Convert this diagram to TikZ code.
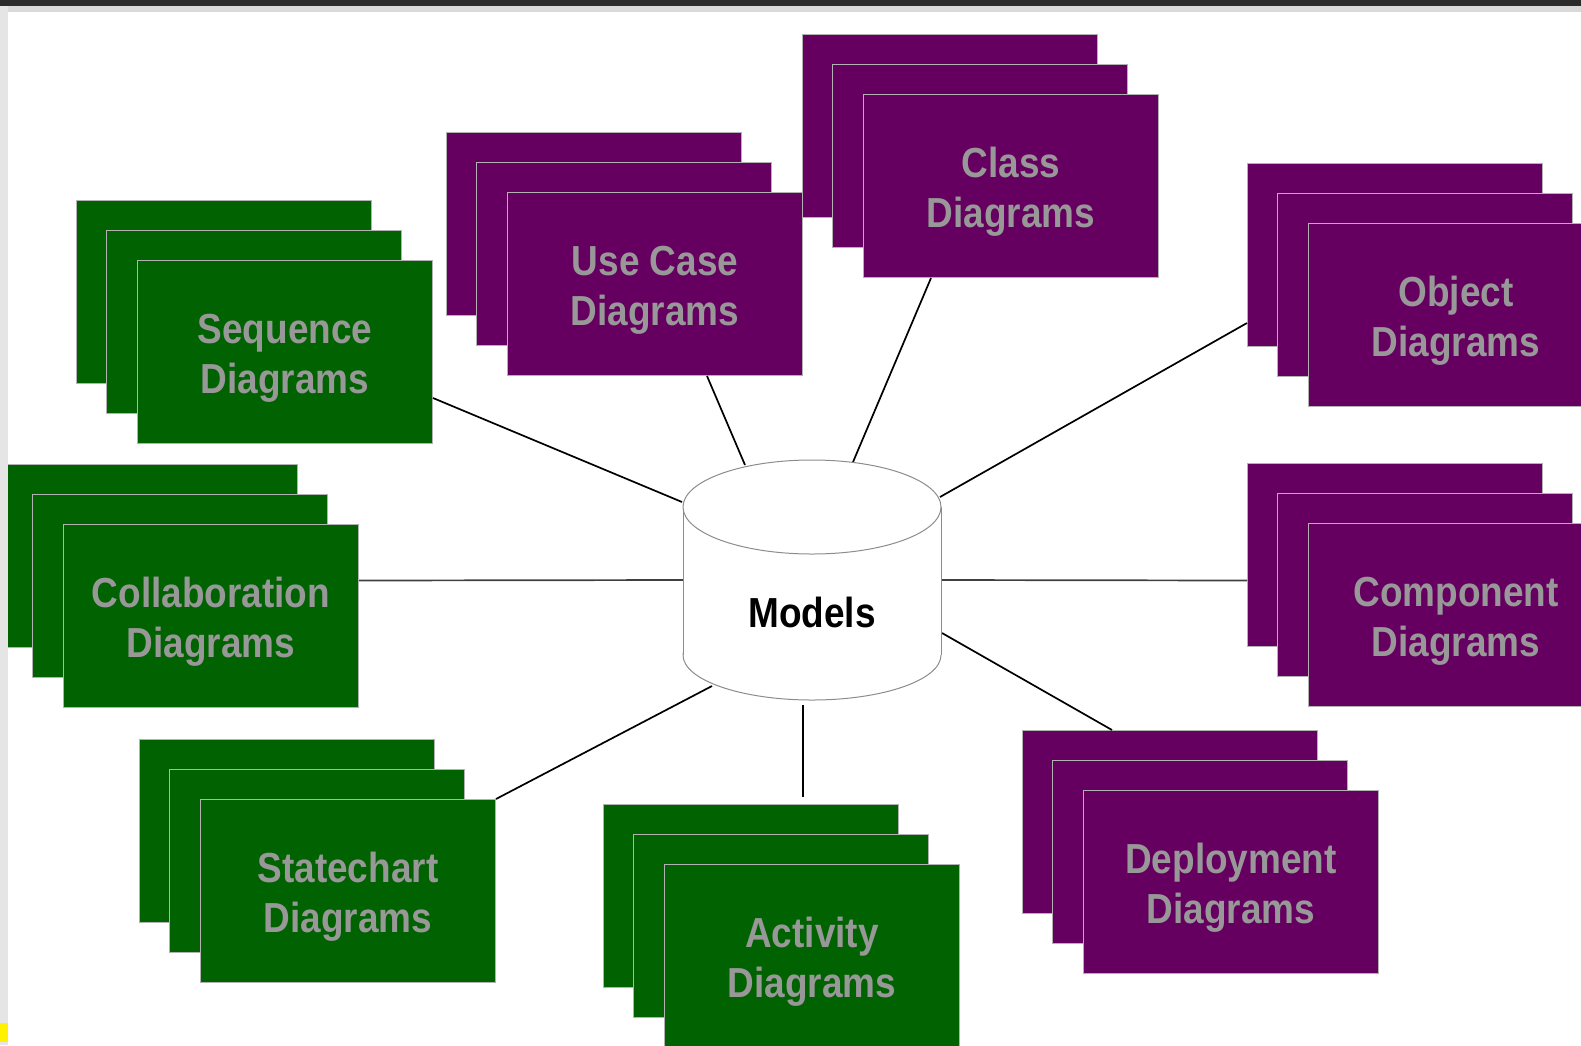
\documentclass[tikz,border=0pt]{standalone}
\usepackage{fontspec}
\newfontfamily\boxfont{Liberation Sans}[FakeStretch=0.88]
\definecolor{umlpurple}{RGB}{102,0,96}
\definecolor{umlgreen}{RGB}{0,98,0}
\definecolor{labelgrey}{RGB}{152,152,152}
\tikzset{
  sheet/.style={draw=black!30, line width=1pt, minimum width=295pt, minimum height=183pt,
    inner sep=0pt, anchor=north west},
  label text/.style={text=labelgrey, align=center,
    font=\boxfont\bfseries\fontsize{42}{50}\selectfont},
  link/.style={line width=1.7pt},
  drum/.style={draw=black!45, line width=1pt, fill=white},
}
\begin{document}
\begin{tikzpicture}[x=1pt,y=-1pt]
\useasboundingbox (0,0) rectangle (1581,1045);
\clip (0,0) rectangle (1581,1045);

% stacks of three sheets, back to front
\foreach \name/\x/\y/\col/\txt in {
  seq/76/200/umlgreen/Sequence\\Diagrams,
  usecase/446/132/umlpurple/Use Case\\Diagrams,
  class/802/34/umlpurple/Class\\Diagrams,
  object/1247/163/umlpurple/Object\\Diagrams,
  collab/2/464/umlgreen/Collaboration\\Diagrams,
  component/1247/463/umlpurple/Component\\Diagrams,
  state/139/739/umlgreen/Statechart\\Diagrams,
  activity/603/804/umlgreen/Activity\\Diagrams,
  deploy/1022/730/umlpurple/Deployment\\Diagrams}
{
  \node[sheet,fill=\col] (\name-back) at (\x,\y) {};
  \node[sheet,fill=\col] (\name-mid) at (\x+30,\y+30) {};
  \node[sheet,fill=\col] (\name) at (\x+61,\y+60) {};
  \node[label text] (\name-label) at ([yshift=-6pt]\name.center) {\txt};
}

% points on the drum
\coordinate (cyl-seq) at (682,502);
\coordinate (cyl-use) at (745,465);
\coordinate (cyl-class) at (853,462);
\coordinate (cyl-obj) at (940,497);
\coordinate (cyl-col) at (683,580);
\coordinate (cyl-comp) at (941,580);
\coordinate (cyl-state) at (712,686);
\coordinate (cyl-act) at (803,705);
\coordinate (cyl-dep) at (942,633);

\draw[link] ([yshift=-46pt]seq.east) -- (cyl-seq);
\draw[link] ([xshift=52pt]usecase.south) -- (cyl-use);
\draw[link] ([xshift=-80pt]class.south) -- (cyl-class);
\draw[link] ([yshift=-68pt]object-back.west) -- (cyl-obj);
\draw[link,black!75] ([yshift=35.5pt]collab.east) -- (cyl-col);
\draw[link,black!75] ([yshift=-25.5pt]component-back.west) -- (cyl-comp);
\draw[link] (state.north east) -- (cyl-state);
\draw[link] ([xshift=52pt,yshift=7pt]activity-back.north) -- (cyl-act);
\draw[link] ([xshift=-58pt]deploy-back.north) -- (cyl-dep);

% the drum
\draw[drum] (812,655) ellipse [x radius=129, y radius=45];
\fill[white] (683,507) rectangle (941,655);
\draw[drum] (683,507) -- (683,655) (941,507) -- (941,655);
\draw[drum] (812,507) ellipse [x radius=129, y radius=47];
\node[font=\boxfont\bfseries\fontsize{42}{50}\selectfont] (models) at (812,612) {Models};

% frame of the screenshot
\fill[black!83] (0,0) rectangle (1581,6);
\fill[black!15] (0,6) rectangle (1581,12);
\fill[black!10] (0,6) rectangle (8,1045);
\fill[yellow] (0,1023) rectangle (8,1042);
\end{tikzpicture}
\end{document}
